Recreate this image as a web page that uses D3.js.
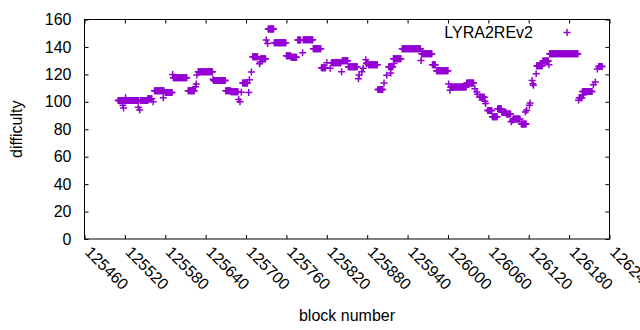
<!DOCTYPE html>
<html>
<head>
<meta charset="utf-8">
<script src="https://cdn.jsdelivr.net/npm/d3@7"></script>
<style>
  body { margin: 0; background: #fff; }
  svg text { font-family: "Liberation Sans", Arial, sans-serif; font-size: 16px; fill: #000; }
</style>
</head>
<body>
<div id="chart"></div>
<script>
const runStart = [125510, 125521, 125517, 125518, 125540, 125542, 125543, 125554, 125562, 125577,
  125564, 125580, 125591, 125592, 125614, 125625, 125626, 125627, 125629, 125651,
  125652, 125670, 125678, 125689, 125691, 125693, 125695, 125704, 125705, 125708,
  125710, 125720, 125721, 125722, 125730, 125732, 125733, 125742, 125760, 125767,
  125777, 125784, 125785, 125800, 125812, 125820, 125825, 125827, 125842, 125843,
  125852, 125867, 125868, 125872, 125874, 125878, 125879, 125880, 125882, 125896,
  125905, 125909, 125912, 125915, 125919, 125920, 125932, 125960, 125961, 125977,
  125983, 126001, 126003, 126004, 126028, 126040, 126043, 126044, 126047, 126055,
  126056, 126059, 126066, 126074, 126080, 126087, 126094, 126096, 126097, 126109,
  126115, 126117, 126121, 126122, 126125, 126126, 126127, 126131, 126132, 126141,
  126150, 126151, 126194, 126195, 126200, 126201, 126216, 126219, 126222, 126224];
const runEnd = [125540, 125521, 125517, 125518, 125540, 125542, 125554, 125560, 125562, 125577,
  125578, 125590, 125591, 125612, 125623, 125625, 125626, 125627, 125650, 125651,
  125669, 125677, 125688, 125689, 125691, 125693, 125702, 125704, 125705, 125708,
  125717, 125720, 125721, 125729, 125730, 125732, 125741, 125759, 125766, 125775,
  125781, 125784, 125799, 125811, 125818, 125820, 125825, 125841, 125842, 125851,
  125865, 125867, 125868, 125872, 125874, 125878, 125879, 125880, 125895, 125903,
  125905, 125909, 125918, 125915, 125930, 125920, 125959, 125960, 125976, 125981,
  126000, 126001, 126003, 126027, 126038, 126040, 126043, 126044, 126054, 126055,
  126056, 126065, 126073, 126079, 126086, 126093, 126094, 126096, 126107, 126116,
  126115, 126117, 126121, 126122, 126125, 126126, 126127, 126131, 126140, 126149,
  126150, 126193, 126194, 126199, 126214, 126201, 126216, 126219, 126222, 126229];
const runValue = [101, 103, 97.5, 95.5, 96, 94, 101, 102.3, 100, 103,
  108, 106.7, 120, 117.6, 108, 111, 113, 119.5, 122, 116.5,
  115.6, 108, 107.4, 101.6, 100, 107, 113.7, 106.7, 116.1, 121.7,
  132.9, 127.8, 129, 131.4, 145, 142.5, 153, 143, 133.5, 132.5,
  145, 135.8, 145.2, 138.7, 124.8, 128.5, 124.4, 128.5, 122, 130,
  125.6, 116.9, 119.5, 122, 124.5, 130.7, 128, 128.5, 127, 108.9,
  113.7, 119.3, 125.6, 121, 131.4, 128, 138.7, 130.2, 135, 127,
  122.7, 113, 108.5, 110.8, 113.7, 109.6, 107.2, 105.6, 103.3, 100.5,
  98.7, 93.6, 89.2, 95, 92.4, 91.2, 85.5, 86.5, 87.5, 83.9,
  92.6, 93.8, 97.5, 99.1, 115.6, 113.2, 112, 120.5, 126.3, 129.7,
  127, 135, 101.1, 103, 107.6, 105, 112.5, 114.5, 124, 125.8];

const xTicks = d3.range(125460, 126241, 60);
const yTicks = d3.range(0, 161, 20);
const seriesName = "LYRA2REv2";
const color = "#9400d3";

const width = 640, height = 330;
const margin = { top: 19.5, right: 30.5, bottom: 91, left: 84.5 };

const svg = d3.select("#chart").append("svg")
  .attr("width", width)
  .attr("height", height);

const x = d3.scaleLinear().domain([125460, 126240]).range([margin.left, width - margin.right]);
const y = d3.scaleLinear().domain([0, 160]).range([height - margin.bottom, margin.top]);

// one point per block inside each run
const points = [];
runStart.forEach((s, i) => {
  for (let b = s; b <= runEnd[i]; b++) points.push({ block: b, diff: runValue[i] });
});

// axes, ticks pointing inward on all four sides
const bottom = svg.append("g")
  .attr("transform", `translate(0,${y(0)})`)
  .call(d3.axisBottom(x).tickValues(xTicks).tickSize(-4).tickFormat(d3.format("d")));
bottom.selectAll("text")
  .attr("x", 0).attr("y", 0).attr("dy", null)
  .attr("text-anchor", "start")
  .attr("transform", "translate(-1,14) rotate(45)");

svg.append("g")
  .attr("transform", `translate(0,${y(160)})`)
  .call(d3.axisTop(x).tickValues(xTicks).tickSize(-4).tickFormat(""));

svg.append("g")
  .attr("transform", `translate(${x.range()[0]},0)`)
  .call(d3.axisLeft(y).tickValues(yTicks).tickSize(-4).tickPadding(13));

svg.append("g")
  .attr("transform", `translate(${x.range()[1]},0)`)
  .call(d3.axisRight(y).tickValues(yTicks).tickSize(-4).tickFormat(""));

svg.selectAll(".domain").remove();
svg.selectAll(".tick line").attr("stroke", "#000");
svg.selectAll(".tick text").style("font-size", "16px").style("font-family", "'Liberation Sans', Arial, sans-serif");

svg.append("rect")
  .attr("x", x.range()[0]).attr("y", y(160))
  .attr("width", x.range()[1] - x.range()[0])
  .attr("height", y(0) - y(160))
  .attr("fill", "none").attr("stroke", "#000").attr("stroke-width", 1);

const plus = (cx, cy) => `M${cx - 3.5},${cy}H${cx + 3.5}M${cx},${cy - 3.5}V${cy + 3.5}`;

svg.append("g")
  .selectAll("path")
  .data(points)
  .enter()
  .append("path")
  .attr("d", d => plus(x(d.block), y(d.diff)))
  .attr("stroke", color)
  .attr("stroke-width", 1.5)
  .attr("fill", "none");

// key
svg.append("text")
  .attr("x", 533).attr("y", 38)
  .attr("text-anchor", "end")
  .text(seriesName);
svg.append("path")
  .attr("d", plus(567, 32.5))
  .attr("stroke", color).attr("stroke-width", 1.5);

// axis titles
svg.append("text")
  .attr("x", (x.range()[0] + x.range()[1]) / 2)
  .attr("y", 321)
  .attr("text-anchor", "middle")
  .text("block number");

svg.append("text")
  .attr("transform", `translate(22,${(y(0) + y(160)) / 2}) rotate(-90)`)
  .attr("text-anchor", "middle")
  .text("difficulty");
</script>
</body>
</html>
